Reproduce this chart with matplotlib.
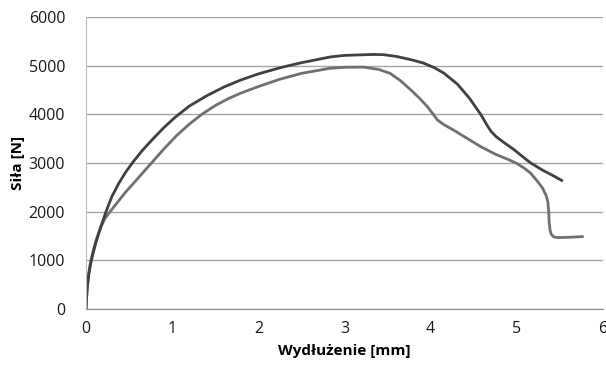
import matplotlib
matplotlib.use("Agg")
import matplotlib.pyplot as plt

# curve 1 (darker, upper)
x_dark = [0, 0.005, 0.015, 0.03, 0.05, 0.08, 0.12, 0.17, 0.23, 0.3, 0.38, 0.46,
          0.55, 0.65, 0.78, 0.9, 1.035, 1.2, 1.4, 1.6, 1.79, 2.0, 2.26, 2.5,
          2.84, 3.0, 3.34, 3.45, 3.6, 3.8, 3.92, 4.04, 4.15, 4.31, 4.45, 4.58,
          4.62, 4.66, 4.7, 4.76, 4.85, 4.97, 5.06, 5.16, 5.3, 5.42, 5.52]
y_dark = [0, 200, 450, 680, 900, 1130, 1400, 1680, 1990, 2310, 2580, 2810,
          3030, 3250, 3500, 3720, 3940, 4170, 4380, 4560, 4700, 4830, 4960, 5060,
          5180, 5210, 5230, 5225, 5190, 5110, 5050, 4960, 4850, 4620, 4330, 4000,
          3880, 3760, 3650, 3540, 3420, 3270, 3140, 3000, 2850, 2740, 2640]

# curve 2 (lighter)
x_light = [0, 0.005, 0.015, 0.03, 0.05, 0.08, 0.12, 0.17, 0.22, 0.28, 0.36, 0.45,
           0.55, 0.65, 0.76, 0.9, 1.05, 1.2, 1.345, 1.5, 1.65, 1.79, 2.0, 2.25,
           2.5, 2.83, 3.0, 3.22, 3.4, 3.53, 3.65, 3.77, 3.87, 3.96, 4.03, 4.08,
           4.16, 4.28, 4.39, 4.58, 4.75, 4.9, 5.0, 5.08, 5.16, 5.24, 5.3, 5.34, 5.36,
           5.37, 5.375, 5.385, 5.4, 5.43, 5.47, 5.6, 5.76]
y_light = [0, 220, 480, 720, 940, 1170, 1430, 1680, 1860, 2000, 2180, 2380,
           2580, 2780, 3000, 3280, 3560, 3800, 4000, 4180, 4320, 4430, 4570, 4720,
           4840, 4945, 4965, 4970, 4920, 4840, 4690, 4500, 4330, 4160, 4000, 3880,
           3780, 3660, 3540, 3335, 3180, 3070, 2990, 2900, 2790, 2620, 2480, 2330, 2205,
           2000, 1800, 1620, 1530, 1480, 1465, 1470, 1485]

xticks = [0, 1, 2, 3, 4, 5, 6]
yticks = [0, 1000, 2000, 3000, 4000, 5000, 6000]

plt.rcParams['font.family'] = ['Open Sans', 'DejaVu Sans']

fig = plt.figure(figsize=(6.06, 3.69), dpi=100)
ax = fig.add_axes([0.142, 0.163, 0.853, 0.791])

ax.plot(x_light, y_light, color='#707070', lw=2.0, solid_joinstyle='round')
ax.plot(x_dark, y_dark, color='#404040', lw=2.0, solid_joinstyle='round')

ax.set_xlim(0, 6)
ax.set_ylim(0, 6000)
ax.set_xticks(xticks)
ax.set_yticks(yticks)
ax.yaxis.grid(True, color='#a6a6a6', lw=1)
ax.set_axisbelow(True)
for s in ['top', 'right']:
    ax.spines[s].set_visible(False)
ax.spines['left'].set_color('#bdbdbd')
ax.spines['bottom'].set_color('#8c8c8c')
ax.tick_params(length=0, labelsize=11.5, colors='#1a1a1a')
ax.tick_params(axis='y', pad=15)
ax.tick_params(axis='x', pad=9)

ax.set_xlabel('Wydłużenie [mm]', fontsize=11, fontweight='bold', labelpad=5)
ax.set_ylabel('Siła [N]', fontsize=11, fontweight='bold', labelpad=3)

plt.savefig('out.png', dpi=100)
